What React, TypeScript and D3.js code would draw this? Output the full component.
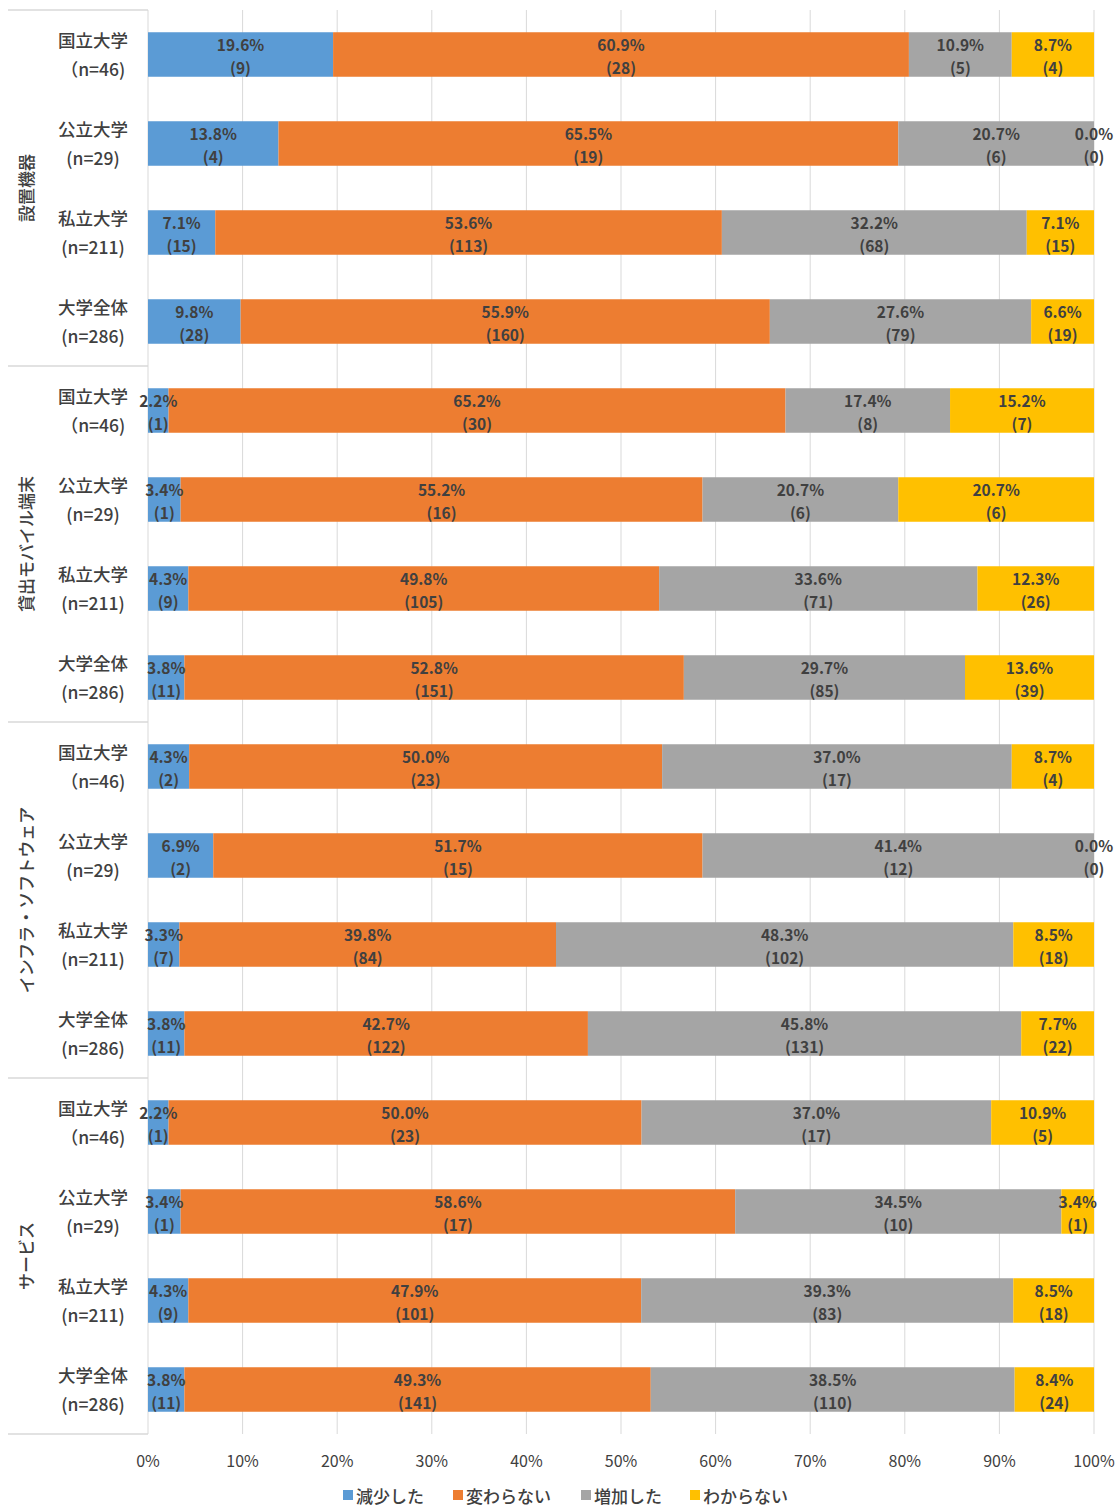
import * as d3 from 'd3';

const groups = ['設置機器', '貸出モバイル端末', 'インフラ・ソフトウェア', 'サービス'];
const univ = ['国立大学', '公立大学', '私立大学', '大学全体'];
const nLabels = ['（n=46)', '(n=29)', '(n=211)', '(n=286)'];
const series = ['減少した', '変わらない', '増加した', 'わからない'];
const colors = ['#5B9BD5', '#ED7D31', '#A5A5A5', '#FFC000'];

// counts per bar: [減少した, 変わらない, 増加した, わからない]
const counts = [
  [9, 28, 5, 4], [4, 19, 6, 0], [15, 113, 68, 15], [28, 160, 79, 19],
  [1, 30, 8, 7], [1, 16, 6, 6], [9, 105, 71, 26], [11, 151, 85, 39],
  [2, 23, 17, 4], [2, 15, 12, 0], [7, 84, 102, 18], [11, 122, 131, 22],
  [1, 23, 17, 5], [1, 17, 10, 1], [9, 101, 83, 18], [11, 141, 110, 24],
];
// percentages as printed on the bars
const pcts = [
  [19.6, 60.9, 10.9, 8.7], [13.8, 65.5, 20.7, 0.0], [7.1, 53.6, 32.2, 7.1], [9.8, 55.9, 27.6, 6.6],
  [2.2, 65.2, 17.4, 15.2], [3.4, 55.2, 20.7, 20.7], [4.3, 49.8, 33.6, 12.3], [3.8, 52.8, 29.7, 13.6],
  [4.3, 50.0, 37.0, 8.7], [6.9, 51.7, 41.4, 0.0], [3.3, 39.8, 48.3, 8.5], [3.8, 42.7, 45.8, 7.7],
  [2.2, 50.0, 37.0, 10.9], [3.4, 58.6, 34.5, 3.4], [4.3, 47.9, 39.3, 8.5], [3.8, 49.3, 38.5, 8.4],
];
const ticks = [0, 0.1, 0.2, 0.3, 0.4, 0.5, 0.6, 0.7, 0.8, 0.9, 1];

const W = 1119;
const H = 1508;
const font = '"Noto Sans CJK JP", "Noto Sans", sans-serif';
const textColor = '#404040';

export default function App() {
  const x = d3.scaleLinear().domain([0, 1]).range([148, 1094]);
  const rows = d3.range(counts.length);
  const y = d3.scaleBand<number>()
    .domain(rows)
    .range([10, 1434])
    .paddingInner(0.5)
    .paddingOuter(0.25);
  const step = y.step();
  const top = 10;
  const bottom = 1434;

  // normalise counts to 100% stacks
  const stacked = counts.map(c => {
    const total = d3.sum(c);
    let acc = 0;
    return c.map(v => {
      const x0 = acc / total;
      acc += v;
      return [x0, acc / total];
    });
  });

  return (
    <svg width={W} height={H} style={{ position: 'absolute', left: 0, top: 0, background: '#fff' }}
      fontFamily={font}>
      <rect width={W} height={H} fill="#fff" />
      {/* vertical gridlines */}
      {ticks.map(t => (
        <line key={t} x1={x(t)} x2={x(t)} y1={top} y2={bottom} stroke="#d9d9d9" strokeWidth={1} />
      ))}
      {/* group separators */}
      {d3.range(groups.length + 1).map(g => {
        const yy = top + g * 4 * step;
        return <line key={g} x1={8} x2={148} y1={yy} y2={yy} stroke="#d9d9d9" strokeWidth={1.5} />;
      })}
      {/* bars */}
      {stacked.map((segs, i) => (
        <g key={i}>
          {segs.map((s, j) => (
            <rect key={j} x={x(s[0])} y={y(i)} width={x(s[1]) - x(s[0])} height={y.bandwidth()}
              fill={colors[j]} />
          ))}
          {segs.map((s, j) => {
            const cx = (x(s[0]) + x(s[1])) / 2;
            const cy = (y(i) as number) + y.bandwidth() / 2;
            return (
              <g key={'l' + j} fill={textColor} fontSize={15.5} fontWeight={600} textAnchor="middle">
                <text x={cx} y={cy - 11} dominantBaseline="central">{pcts[i][j].toFixed(1)}%</text>
                <text x={cx} y={cy + 12} dominantBaseline="central">({counts[i][j]})</text>
              </g>
            );
          })}
        </g>
      ))}
      {/* category labels */}
      {rows.map(i => {
        const cy = (y(i) as number) + y.bandwidth() / 2;
        return (
          <g key={'c' + i} fill={textColor} fontSize={17.5} fontWeight={500} textAnchor="middle">
            <text x={93} y={cy - 15} dominantBaseline="central">{univ[i % 4]}</text>
            <text x={93} y={cy + 14} dominantBaseline="central">{nLabels[i % 4]}</text>
          </g>
        );
      })}
      {/* group labels */}
      {groups.map((g, k) => {
        const cy = top + (k * 4 + 2) * step;
        return (
          <text key={g} transform={`translate(25,${cy}) rotate(-90)`} textAnchor="middle"
            dominantBaseline="central" fontSize={17} fontWeight={500} fill={textColor}>{g}</text>
        );
      })}
      {/* x axis labels */}
      {ticks.map(t => (
        <text key={'t' + t} x={x(t)} y={1460} textAnchor="middle" dominantBaseline="central"
          fontSize={16} fill={textColor}>{d3.format('.0%')(t)}</text>
      ))}
      {/* legend */}
      {series.map((s, j) => {
        const lx = [343, 453, 581, 690][j];
        return (
          <g key={s} transform={`translate(${lx},1495)`}>
            <rect x={0} y={-5} width={10} height={10} fill={colors[j]} />
            <text x={13} y={0} dominantBaseline="central" fontSize={17} fontWeight={500}
              fill={textColor}>{s}</text>
          </g>
        );
      })}
    </svg>
  );
}
